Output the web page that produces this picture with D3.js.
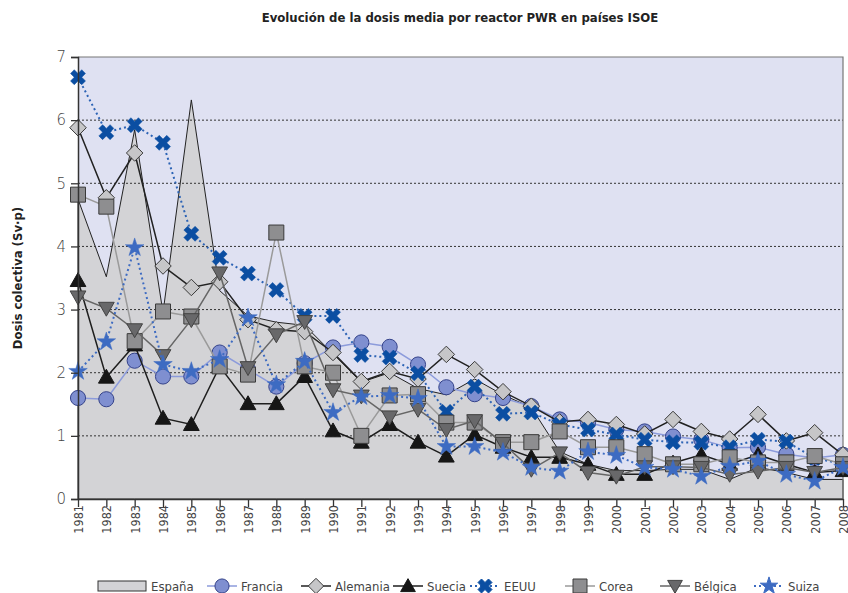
<!DOCTYPE html>
<html>
<head>
<meta charset="utf-8">
<script src="https://cdn.jsdelivr.net/npm/d3@7"></script>
<style>
  body { margin: 0; background: #fff; }
  svg text { font-family: "Liberation Sans Narrow", "DejaVu Sans Condensed", "Roboto", sans-serif; }
</style>
</head>
<body>
<svg id="chart"></svg>
<script>
// Evolución de la dosis media por reactor PWR en países ISOE

const width = 848;
const height = 593;

// --- datos ---
const years = d3.range(1981, 2009);

const espana   = [4.75, 3.52, 5.85, 2.95, 6.32, 3.30, 2.90, 2.80, 2.75, 2.30, 1.85, 2.00, 1.75, 1.65, 1.90, 1.65, 1.45, 0.75, 0.55, 0.45, 0.45, 0.47, 0.47, 0.31, 0.50, 0.42, 0.31, 0.31];
const francia  = [1.60, 1.58, 2.19, 1.94, 1.94, 2.32, 2.05, 1.78, 2.15, 2.40, 2.48, 2.41, 2.13, 1.77, 1.66, 1.60, 1.47, 1.26, 1.21, 1.10, 1.07, 0.99, 0.94, 0.81, 0.82, 0.71, 0.65, 0.70];
const alemania = [5.88, 4.77, 5.48, 3.69, 3.35, 3.44, 2.84, 2.68, 2.65, 2.32, 1.86, 2.02, 1.90, 2.29, 2.05, 1.70, 1.47, 1.22, 1.26, 1.18, 1.03, 1.26, 1.07, 0.95, 1.34, 0.92, 1.05, 0.70];
const suecia   = [3.46, 1.93, 2.44, 1.28, 1.18, 2.10, 1.51, 1.51, 1.94, 1.08, 0.90, 1.18, 0.90, 0.68, 1.02, 0.82, 0.66, 0.66, 0.55, 0.39, 0.39, 0.57, 0.70, 0.55, 0.70, 0.55, 0.42, 0.45];
const eeuu     = [6.68, 5.81, 5.92, 5.64, 4.20, 3.82, 3.57, 3.31, 2.90, 2.90, 2.28, 2.24, 1.99, 1.38, 1.78, 1.35, 1.37, 1.18, 1.10, 1.02, 0.94, 0.90, 0.89, 0.82, 0.94, 0.91, 0.65, 0.55];
const corea    = [4.82, 4.63, 2.50, 2.97, 2.89, 2.10, 1.97, 4.22, 2.10, 2.00, 1.00, 1.64, 1.66, 1.21, 1.21, 0.90, 0.90, 1.07, 0.82, 0.82, 0.71, 0.55, 0.55, 0.66, 0.58, 0.58, 0.68, 0.55];
const belgica  = [3.20, 3.02, 2.68, 2.27, 2.84, 3.58, 2.08, 2.60, 2.81, 1.73, 1.63, 1.30, 1.42, 1.10, 1.24, 0.88, 0.47, 0.73, 0.42, 0.36, 0.51, 0.51, 0.50, 0.39, 0.44, 0.50, 0.42, 0.50];
const suiza    = [2.02, 2.49, 3.98, 2.13, 2.02, 2.21, 2.87, 1.81, 2.18, 1.37, 1.62, 1.64, 1.59, 0.83, 0.83, 0.74, 0.50, 0.44, 0.75, 0.69, 0.50, 0.47, 0.36, 0.52, 0.60, 0.39, 0.28, 0.50];

const yTicks = [0, 1, 2, 3, 4, 5, 6, 7];

const series = [
  { name: "Francia",  values: francia,  symbol: "circle",   fill: "#7f8fd0", stroke: "#34428a", line: "#8c9bdb", dash: null },
  { name: "Alemania", values: alemania, symbol: "diamond",  fill: "#c6c6c8", stroke: "#3a3a3a", line: "#222222", dash: null },
  { name: "Suecia",   values: suecia,   symbol: "triangle", fill: "#161616", stroke: "#161616", line: "#1e1e1e", dash: null },
  { name: "EEUU",     values: eeuu,     symbol: "x",        fill: "#0b4ea2", stroke: "#0b4ea2", line: "#2c63b5", dash: "2,3" },
  { name: "Corea",    values: corea,    symbol: "square",   fill: "#8e8e90", stroke: "#3a3a3a", line: "#9a9a9a", dash: null },
  { name: "Bélgica",  values: belgica,  symbol: "triangleDown", fill: "#68686a", stroke: "#444444", line: "#666666", dash: null },
  { name: "Suiza",    values: suiza,    symbol: "star",     fill: "#3d6bc2", stroke: "#3d6bc2", line: "#3d6bc2", dash: "2,3" }
];

// --- lienzo ---
const margin = { top: 57, right: 5, bottom: 94, left: 78 };
const innerW = width - margin.left - margin.right;
const innerH = height - margin.top - margin.bottom;

const svg = d3.select("#chart")
  .attr("width", width)
  .attr("height", height);

const g = svg.append("g")
  .attr("transform", "translate(" + margin.left + "," + margin.top + ")");

const x = d3.scalePoint().domain(years).range([0, innerW]);
const y = d3.scaleLinear().domain([0, 7]).range([innerH, 0]);

// fondo
g.append("rect")
  .attr("width", innerW)
  .attr("height", innerH)
  .attr("fill", "#dfe1f2");

// área España
const area = d3.area()
  .x(function (d, i) { return x(years[i]); })
  .y0(y(0))
  .y1(function (d) { return y(d); });

g.append("path")
  .datum(espana)
  .attr("d", area)
  .attr("fill", "#d3d3d6")
  .attr("stroke", "#222")
  .attr("stroke-width", 1);

// líneas de cuadrícula
g.append("g")
  .selectAll("line")
  .data(yTicks.filter(function (d) { return d > 0 && d < 7; }))
  .enter()
  .append("line")
  .attr("x1", 0)
  .attr("x2", innerW)
  .attr("y1", function (d) { return y(d); })
  .attr("y2", function (d) { return y(d); })
  .attr("stroke", "#333")
  .attr("stroke-width", 1)
  .attr("stroke-dasharray", "2,2");

// marco superior y derecho
g.append("path")
  .attr("d", "M0," + y(7) + "H" + innerW + "V" + innerH)
  .attr("fill", "none")
  .attr("stroke", "#777")
  .attr("stroke-width", 1.2);

// símbolos
function symbolPath(type, s) {
  if (type === "circle") return d3.symbol(d3.symbolCircle, s * s * 3.2)();
  if (type === "diamond") return "M0," + (-s * 1.1) + "L" + (s * 1.1) + ",0L0," + (s * 1.1) + "L" + (-s * 1.1) + ",0Z";
  if (type === "square") return "M" + (-s) + "," + (-s) + "H" + s + "V" + s + "H" + (-s) + "Z";
  if (type === "triangle") return "M0," + (-s * 1.05) + "L" + (s * 1.05) + "," + (s * 0.8) + "L" + (-s * 1.05) + "," + (s * 0.8) + "Z";
  if (type === "triangleDown") return "M0," + (s * 1.05) + "L" + (s * 1.05) + "," + (-s * 0.8) + "L" + (-s * 1.05) + "," + (-s * 0.8) + "Z";
  if (type === "star") return d3.symbol(d3.symbolStar, s * s * 1.9)();
  if (type === "x") {
    const a = s * 1.0, w = s * 0.5;
    return "M" + (-a) + "," + (-a + w) + "L" + (-a + w) + "," + (-a) + "L0," + (-w) + "L" + (a - w) + "," + (-a) +
      "L" + a + "," + (-a + w) + "L" + w + ",0L" + a + "," + (a - w) + "L" + (a - w) + "," + a +
      "L0," + w + "L" + (-a + w) + "," + a + "L" + (-a) + "," + (a - w) + "L" + (-w) + ",0Z";
  }
}

const line = d3.line()
  .x(function (d, i) { return x(years[i]); })
  .y(function (d) { return y(d); });

series.forEach(function (s) {
  const sg = g.append("g");
  sg.append("path")
    .datum(s.values)
    .attr("d", line)
    .attr("fill", "none")
    .attr("stroke", s.line)
    .attr("stroke-width", s.dash ? 2 : 1.5)
    .attr("stroke-dasharray", s.dash);

  sg.selectAll("path.mk")
    .data(s.values)
    .enter()
    .append("path")
    .attr("class", "mk")
    .attr("transform", function (d, i) { return "translate(" + x(years[i]) + "," + y(d) + ")"; })
    .attr("d", symbolPath(s.symbol, 7.5))
    .attr("fill", s.fill)
    .attr("stroke", s.stroke)
    .attr("stroke-width", s.symbol === "x" || s.symbol === "star" ? 0.5 : 1);
});

// ejes
const yAxis = g.append("g")
  .call(d3.axisLeft(y).tickValues(yTicks).tickSize(7).tickPadding(5).tickFormat(d3.format("d")));
yAxis.select(".domain").attr("stroke", "#333").attr("stroke-width", 1.5);
yAxis.selectAll(".tick line").attr("stroke", "#333").attr("stroke-width", 1.3);
yAxis.selectAll("text")
  .attr("font-size", 15)
  .attr("fill", "#444")
  .style("font-family", "'DejaVu Sans', sans-serif")
  .style("font-weight", "300");

const xAxis = g.append("g")
  .attr("transform", "translate(0," + innerH + ")")
  .call(d3.axisBottom(x).tickSize(8).tickSizeOuter(0));
xAxis.select(".domain").attr("stroke", "#333").attr("stroke-width", 1.5);
xAxis.selectAll(".tick line").attr("stroke", "#333").attr("stroke-width", 1.3);
xAxis.selectAll("text")
  .attr("font-size", 12.5)
  .attr("fill", "#444")
  .attr("transform", "rotate(-90)")
  .attr("text-anchor", "end")
  .attr("x", -6)
  .attr("y", 0)
  .attr("dy", "0.35em");

// título
svg.append("text")
  .attr("x", 460)
  .attr("y", 22)
  .attr("text-anchor", "middle")
  .attr("font-size", 13)
  .attr("font-weight", "bold")
  .attr("fill", "#222")
  .text("Evolución de la dosis media por reactor PWR en países ISOE");

// título eje Y
svg.append("text")
  .attr("transform", "translate(22," + (margin.top + innerH / 2) + ") rotate(-90)")
  .attr("text-anchor", "middle")
  .attr("font-size", 13)
  .attr("font-weight", "bold")
  .attr("fill", "#222")
  .text("Dosis colectiva (Sv·p)");

// leyenda
const legY = 586;
const leg = svg.append("g");
leg.append("rect")
  .attr("x", 98).attr("y", legY - 5)
  .attr("width", 48).attr("height", 10)
  .attr("fill", "#d3d3d6").attr("stroke", "#333").attr("stroke-width", 1);
leg.append("text")
  .attr("x", 151).attr("y", legY).attr("dy", "0.35em")
  .attr("font-size", 13).attr("fill", "#444")
  .text("España");

const legX = [222, 316, 408, 485, 580, 675, 769];
series.forEach(function (s, i) {
  const cx = legX[i];
  leg.append("line")
    .attr("x1", cx - 15).attr("x2", cx + 15)
    .attr("y1", legY).attr("y2", legY)
    .attr("stroke", s.line)
    .attr("stroke-width", s.dash ? 2 : 1.5)
    .attr("stroke-dasharray", s.dash);
  leg.append("path")
    .attr("transform", "translate(" + cx + "," + legY + ")")
    .attr("d", symbolPath(s.symbol, 7))
    .attr("fill", s.fill)
    .attr("stroke", s.stroke)
    .attr("stroke-width", 1);
  leg.append("text")
    .attr("x", cx + 19).attr("y", legY).attr("dy", "0.35em")
    .attr("font-size", 13).attr("fill", "#444")
    .text(s.name);
});
</script>
</body>
</html>
